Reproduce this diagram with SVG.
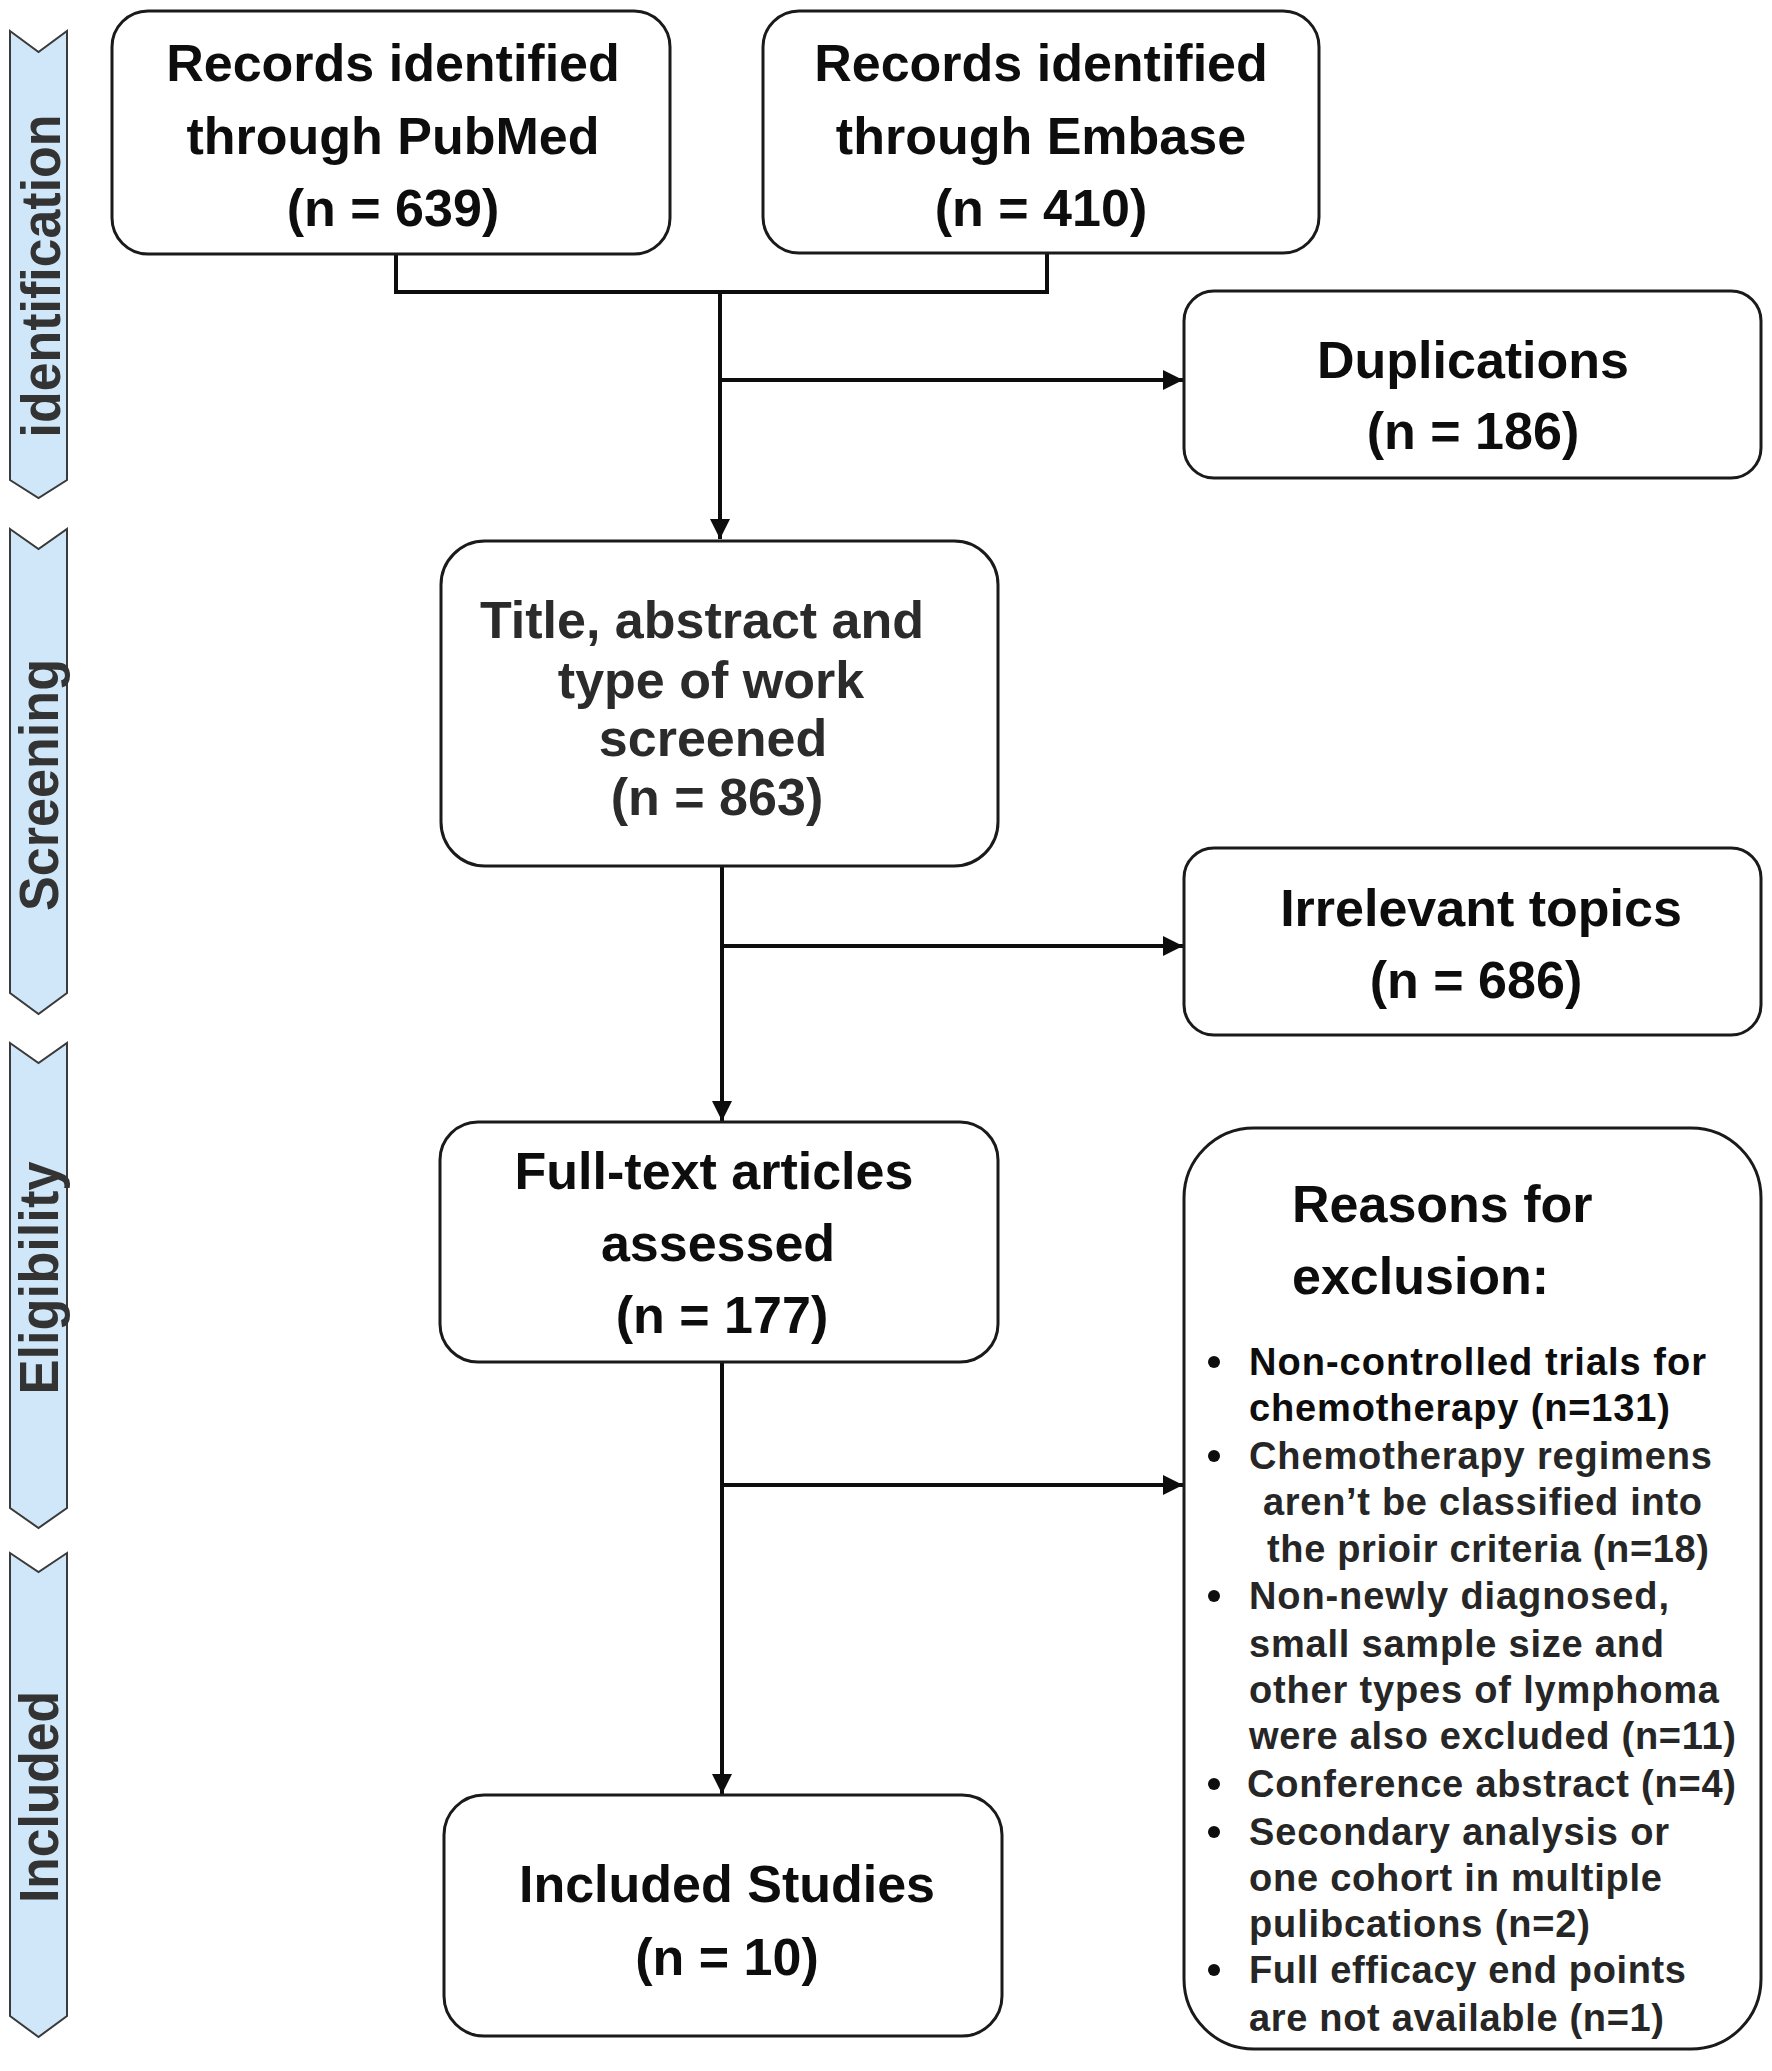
<svg xmlns="http://www.w3.org/2000/svg" width="1772" height="2071" viewBox="0 0 1772 2071">
<style>
.box{fill:#fff;stroke:#1a1a1a;stroke-width:3}
.band{fill:#cfe7f8;stroke:#3a3a3a;stroke-width:2}
.t{font-family:"Liberation Sans",Arial,sans-serif;font-weight:bold;font-size:52px;fill:#0d0d0d;text-anchor:middle}
.tg{fill:#2b2b2b}
.bl{font-family:"Liberation Sans",Arial,sans-serif;font-weight:bold;font-size:56px;fill:#333;text-anchor:middle}
.b{font-family:"Liberation Sans",Arial,sans-serif;font-weight:bold;font-size:38px;fill:#262626}
.b0{fill:#0d0d0d}
.c{fill:none;stroke:#0d0d0d;stroke-width:4}
.dot{fill:#0d0d0d}
</style>
<defs>
<marker id="ah" viewBox="0 0 20 20" refX="20" refY="10" markerWidth="20" markerHeight="20" markerUnits="userSpaceOnUse" orient="auto">
<path d="M0,0 L20,10 L0,20 z" fill="#0d0d0d"/>
</marker>
</defs>
<rect width="1772" height="2071" fill="#fff"/>
<g id="band-identification">
<path class="band" d="M10,31 L38.5,52 L67,31 L67,480 L38.5,498 L10,480 Z"/>
<text class="bl" transform="translate(60,276) rotate(-90)" textLength="323" lengthAdjust="spacingAndGlyphs">identification</text>
</g>
<g id="band-screening">
<path class="band" d="M10,529 L38.5,549 L67,529 L67,993 L38.5,1014 L10,993 Z"/>
<text class="bl" transform="translate(58,785) rotate(-90)" textLength="252" lengthAdjust="spacingAndGlyphs">Screening</text>
</g>
<g id="band-eligibility">
<path class="band" d="M10,1043 L38.5,1063 L67,1043 L67,1508 L38.5,1528 L10,1508 Z"/>
<text class="bl" transform="translate(58,1278) rotate(-90)" textLength="233" lengthAdjust="spacingAndGlyphs">Eligibility</text>
</g>
<g id="band-included">
<path class="band" d="M10,1553 L38.5,1572 L67,1553 L67,2016 L38.5,2037 L10,2016 Z"/>
<text class="bl" transform="translate(58,1797) rotate(-90)" textLength="212" lengthAdjust="spacingAndGlyphs">Included</text>
</g>
<g id="connectors">
<path class="c" d="M396,254 L396,292 L1047,292 L1047,253"/>
<path class="c" d="M720,292 L720,539" marker-end="url(#ah)"/>
<path class="c" d="M720,380 L1183,380" marker-end="url(#ah)"/>
<path class="c" d="M722,866 L722,1121" marker-end="url(#ah)"/>
<path class="c" d="M722,946 L1183,946" marker-end="url(#ah)"/>
<path class="c" d="M722,1362 L722,1794" marker-end="url(#ah)"/>
<path class="c" d="M722,1485 L1183,1485" marker-end="url(#ah)"/>
</g>
<g id="node-pubmed">
<rect class="box" x="112" y="11" width="558" height="243" rx="36" ry="36"/>
<text class="t" x="393" y="81">Records identified</text>
<text class="t" x="393" y="154">through PubMed</text>
<text class="t" x="393" y="226">(n = 639)</text>
</g>
<g id="node-embase">
<rect class="box" x="763" y="11" width="556" height="242" rx="36" ry="36"/>
<text class="t" x="1041" y="81">Records identified</text>
<text class="t" x="1041" y="154">through Embase</text>
<text class="t" x="1041" y="226">(n = 410)</text>
</g>
<g id="node-duplications">
<rect class="box" x="1184" y="291" width="577" height="187" rx="30" ry="30"/>
<text class="t" x="1473" y="378">Duplications</text>
<text class="t" x="1473" y="449">(n = 186)</text>
</g>
<g id="node-screened">
<rect class="box" x="441" y="541" width="557" height="325" rx="44" ry="44"/>
<text class="t tg" x="702" y="638">Title, abstract and</text>
<text class="t tg" x="711" y="698">type of work</text>
<text class="t tg" x="713" y="756">screened</text>
<text class="t tg" x="717" y="815">(n = 863)</text>
</g>
<g id="node-irrelevant">
<rect class="box" x="1184" y="848" width="577" height="187" rx="30" ry="30"/>
<text class="t" x="1481" y="926">Irrelevant topics</text>
<text class="t" x="1476" y="998">(n = 686)</text>
</g>
<g id="node-fulltext">
<rect class="box" x="440" y="1122" width="558" height="240" rx="38" ry="38"/>
<text class="t" x="714" y="1189">Full-text articles</text>
<text class="t" x="718" y="1261">assessed</text>
<text class="t" x="722" y="1333">(n = 177)</text>
</g>
<g id="node-included">
<rect class="box" x="444" y="1795" width="558" height="241" rx="40" ry="40"/>
<text class="t" x="727" y="1902">Included Studies</text>
<text class="t" x="727" y="1975">(n = 10)</text>
</g>
<g id="node-reasons">
<rect class="box" x="1184" y="1128" width="577" height="921" rx="70" ry="70"/>
<text class="t" x="1292" y="1222" style="text-anchor:start">Reasons for</text>
<text class="t" x="1292" y="1294" style="text-anchor:start">exclusion:</text>
<circle class="dot" cx="1214" cy="1362" r="6"/>
<circle class="dot" cx="1214" cy="1456" r="6"/>
<circle class="dot" cx="1214" cy="1596" r="6"/>
<circle class="dot" cx="1214" cy="1784" r="6"/>
<circle class="dot" cx="1214" cy="1832" r="6"/>
<circle class="dot" cx="1214" cy="1970" r="6"/>
<text class="b b0" x="1249" y="1375" textLength="457" lengthAdjust="spacing">Non-controlled trials for</text>
<text class="b b0" x="1249" y="1421" textLength="421" lengthAdjust="spacing">chemotherapy (n=131)</text>
<text class="b" x="1249" y="1469" textLength="463" lengthAdjust="spacing">Chemotherapy regimens</text>
<text class="b" x="1263" y="1515" textLength="439" lengthAdjust="spacing">aren’t be classified into</text>
<text class="b" x="1267" y="1562" textLength="442" lengthAdjust="spacing">the prioir criteria (n=18)</text>
<text class="b" x="1249" y="1609" textLength="420" lengthAdjust="spacing">Non-newly diagnosed,</text>
<text class="b" x="1249" y="1657" textLength="415" lengthAdjust="spacing">small sample size and</text>
<text class="b" x="1249" y="1703" textLength="470" lengthAdjust="spacing">other types of lymphoma</text>
<text class="b" x="1249" y="1749" textLength="487" lengthAdjust="spacing">were also excluded (n=11)</text>
<text class="b" x="1247" y="1797" textLength="489" lengthAdjust="spacing">Conference abstract (n=4)</text>
<text class="b" x="1249" y="1845" textLength="420" lengthAdjust="spacing">Secondary analysis or</text>
<text class="b" x="1249" y="1891" textLength="413" lengthAdjust="spacing">one cohort in multiple</text>
<text class="b" x="1249" y="1937" textLength="341" lengthAdjust="spacing">pulibcations (n=2)</text>
<text class="b" x="1249" y="1983" textLength="437" lengthAdjust="spacing">Full efficacy end points</text>
<text class="b" x="1249" y="2031" textLength="415" lengthAdjust="spacing">are not available (n=1)</text>
</g>
</svg>
